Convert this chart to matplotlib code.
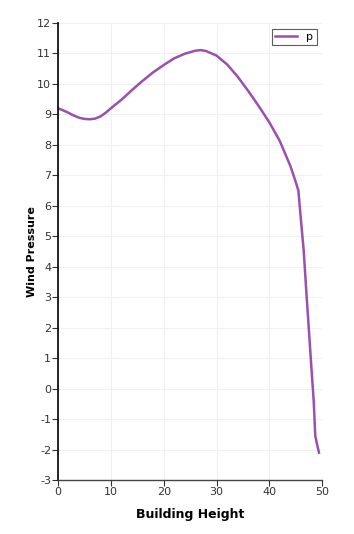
import numpy as np
import matplotlib
matplotlib.use("Agg")
import matplotlib.pyplot as plt

plt.rcParams["axes.unicode_minus"] = False

height = [0, 1, 2, 3, 4, 5, 6, 7, 8, 9, 10, 12, 14, 16, 18, 20, 22, 24, 26, 27,
          28, 30, 32, 34, 36, 38, 40, 42, 44, 45, 45.5, 46, 46.5, 47, 47.5, 48,
          48.4, 48.7, 49, 49.4]
pressure = [9.2, 9.13, 9.05, 8.96, 8.89, 8.85, 8.84, 8.86, 8.93, 9.05, 9.2, 9.48,
            9.8, 10.1, 10.38, 10.62, 10.84, 10.99, 11.09, 11.11, 11.08, 10.93,
            10.64, 10.24, 9.77, 9.27, 8.74, 8.12, 7.3, 6.78, 6.5, 5.5, 4.55, 3.2,
            1.9, 0.6, -0.4, -1.55, -1.8, -2.1]

fig = plt.figure(figsize=(3.54, 5.34), dpi=100)
ax = fig.add_axes([0.164, 0.101, 0.746, 0.856])

ax.plot(height, pressure, color="#9b4fae", lw=1.8, label="p")

ax.set_xlim(0, 50)
ax.set_ylim(-3, 12)
ax.set_xticks(np.arange(0, 51, 10))
ax.set_yticks(np.arange(-3, 13, 1))
ax.grid(True, color="#f0f0f0", lw=0.8)
ax.set_axisbelow(True)

for s in ["top", "right"]:
    ax.spines[s].set_visible(False)
ax.spines["left"].set_color("black")
ax.spines["left"].set_linewidth(1.2)
ax.spines["bottom"].set_color("#444444")
ax.spines["bottom"].set_linewidth(1.0)
ax.tick_params(labelsize=8, colors="#333333", length=4, width=0.8, pad=1)

ax.set_xlabel("Building Height", fontsize=9, fontweight="bold", labelpad=8)
ax.set_ylabel("Wind Pressure", fontsize=8, fontweight="bold", labelpad=0)

leg = ax.legend(loc="upper right", fontsize=8, frameon=True, fancybox=False,
                handlelength=2, borderpad=0.3, bbox_to_anchor=(1.0, 1.0))
leg.get_frame().set_edgecolor("#333333")
leg.get_frame().set_linewidth(0.8)

fig.savefig("out.png", dpi=100)
